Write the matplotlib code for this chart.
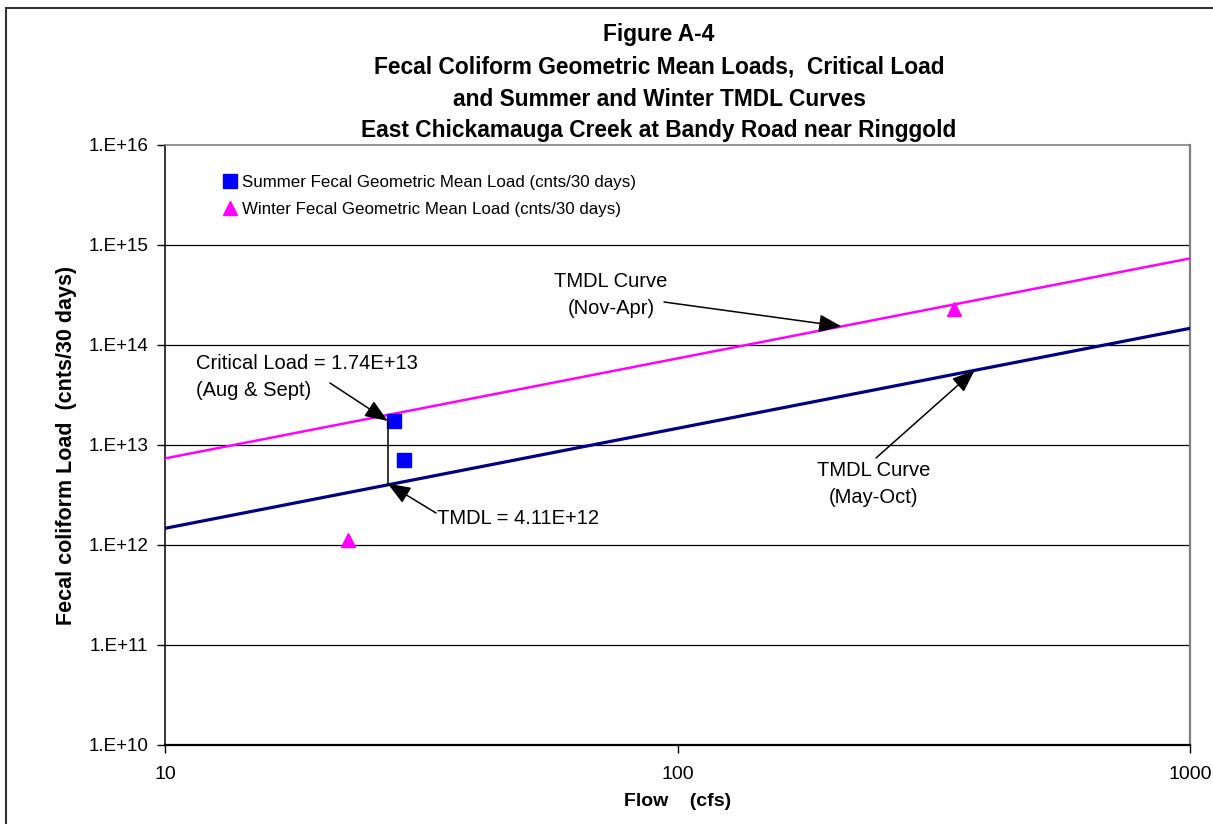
import numpy as np
import matplotlib
matplotlib.use("Agg")
import matplotlib.pyplot as plt
from matplotlib.lines import Line2D
from matplotlib.patches import Rectangle

plt.rcParams['font.family'] = ['Liberation Sans', 'DejaVu Sans']

# ---- data ----
title_lines = [
    "Figure A-4",
    "Fecal Coliform Geometric Mean Loads,  Critical Load",
    "and Summer and Winter TMDL Curves",
    "East Chickamauga Creek at Bandy Road near Ringgold",
]

summer_flow = [28.0, 29.3]
summer_load = [1.74e13, 7.1e12]

winter_flow = [22.8, 346.0]
winter_load = [1.12e12, 2.29e14]

# TMDL curves (straight lines on log-log axes, given by their end points)
curve_flow = [10.0, 1000.0]
summer_curve = [1.468e12, 1.468e14]
winter_curve = [7.34e12, 7.34e14]

critical_flow = 27.2
critical_load = 1.74e13
tmdl_value = 4.11e12

x_ticks = [10, 100, 1000]
x_tick_labels = ["10", "100", "1000"]
y_ticks = [1e10, 1e11, 1e12, 1e13, 1e14, 1e15, 1e16]
y_tick_labels = ["1.E+10", "1.E+11", "1.E+12", "1.E+13", "1.E+14", "1.E+15", "1.E+16"]


def on_curve(q, loads):
    """Load on a power-law curve at flow q (log-log interpolation)."""
    return 10 ** np.interp(np.log10(q), np.log10(curve_flow), np.log10(loads))


W, H = 1213, 824
fig = plt.figure(figsize=(W / 100, H / 100), dpi=100)
fig.patch.set_facecolor("white")

# outer chart frame
fig.patches.append(Rectangle((6 / W, -0.05), 1.2, 1 - 8 / H + 0.05,
                             transform=fig.transFigure, fill=False,
                             edgecolor="#333333", linewidth=1.5))

L, R, T, B = 165, 1190, 145, 745
ax = fig.add_axes([L / W, 1 - B / H, (R - L) / W, (B - T) / H])
ax.set_xscale("log")
ax.set_yscale("log")
ax.set_xlim(10, 1000)
ax.set_ylim(1e10, 1e16)

# horizontal gridlines
for yv in y_ticks[1:-1]:
    ax.axhline(yv, color="black", linewidth=0.9, zorder=1)

ax.spines["left"].set_color("black")
ax.spines["bottom"].set_color("black")
ax.spines["left"].set_linewidth(1.1)
ax.spines["bottom"].set_linewidth(1.6)
ax.spines["top"].set_color("#808080")
ax.spines["right"].set_color("#808080")
ax.spines["top"].set_linewidth(1.2)
ax.spines["right"].set_linewidth(1.6)

ax.set_xticks(x_ticks)
ax.set_xticklabels(x_tick_labels)
ax.set_yticks(y_ticks)
ax.set_yticklabels(y_tick_labels)
ax.minorticks_off()
ax.tick_params(axis="both", which="major", direction="out", length=6,
               width=1, labelsize=14, color="black")
ax.tick_params(axis="x", pad=9)
ax.tick_params(axis="y", labelsize=13.6, pad=6)

# curves
ax.plot(curve_flow, winter_curve, color="#FF00FF", linewidth=1.8, zorder=3)
ax.plot(curve_flow, summer_curve, color="#000080", linewidth=2.3, zorder=3)

# observed loads
ax.plot(summer_flow, summer_load, linestyle="none", marker="s", markersize=9.5,
        color="#0000FF", zorder=4)
ax.plot(winter_flow, winter_load, linestyle="none", marker="^", markersize=10,
        color="#FF00FF", zorder=4)

# critical load to TMDL connector
ax.plot([critical_flow, critical_flow], [critical_load, tmdl_value],
        color="black", linewidth=1.1, zorder=5)

arrow = dict(arrowstyle="-|>,head_length=1.4,head_width=0.55",
             mutation_scale=10, color="black", linewidth=1.1,
             shrinkA=0, shrinkB=0)

def frac(px, py):
    return ((px - L) / (R - L), (B - py) / (B - T))

text_kw = dict(fontsize=14.5, color="black", textcoords="axes fraction",
               zorder=6)

# winter curve label
q_w = 209.0
ax.annotate("", xy=(q_w, on_curve(q_w, winter_curve)), xytext=frac(664, 302),
            arrowprops=arrow, textcoords="axes fraction")
ax.annotate("TMDL Curve\n(Nov-Apr)", xy=(q_w, on_curve(q_w, winter_curve)),
            xytext=frac(611, 295), ha="center", va="center",
            linespacing=1.55, **text_kw)

# summer curve label
q_s = 380.0
ax.annotate("", xy=(q_s, on_curve(q_s, summer_curve)), xytext=frac(876, 458),
            arrowprops=arrow, textcoords="axes fraction")
ax.annotate("TMDL Curve\n(May-Oct)", xy=(q_s, on_curve(q_s, summer_curve)),
            xytext=frac(874, 484), ha="center", va="center",
            linespacing=1.55, **text_kw)

# critical load label
ax.annotate("", xy=(critical_flow, critical_load), xytext=frac(330, 383),
            arrowprops=arrow, textcoords="axes fraction")
ax.annotate("Critical Load = 1.74E+13\n(Aug & Sept)",
            xy=(critical_flow, critical_load), xytext=frac(196, 377),
            ha="left", va="center", linespacing=1.55, **text_kw)

# TMDL value label
ax.annotate("", xy=(critical_flow, tmdl_value), xytext=frac(436, 513),
            arrowprops=arrow, textcoords="axes fraction")
ax.annotate("TMDL = 4.11E+12", xy=(critical_flow, tmdl_value),
            xytext=frac(437, 519), ha="left", va="center", **text_kw)

# legend
handles = [
    Line2D([], [], linestyle="none", marker="s", markersize=9.5, color="#0000FF"),
    Line2D([], [], linestyle="none", marker="^", markersize=10, color="#FF00FF"),
]
labels = ["Summer Fecal Geometric Mean Load (cnts/30 days)",
          "Winter Fecal Geometric Mean Load (cnts/30 days)"]
ax.legend(handles, labels, loc="upper left", bbox_to_anchor=frac(222, 175),
          frameon=False, fontsize=12.2, handlelength=0.9, handletextpad=0.3,
          labelspacing=0.72, borderpad=0, borderaxespad=0)

# titles
cx = 659 / W
for i, line in enumerate(title_lines):
    fig.text(cx, 1 - (35 + i * 32) / H, line, ha="center", va="center",
             fontsize=16.4, fontweight="bold")

ax.set_xlabel("Flow    (cfs)", fontsize=14, fontweight="bold", labelpad=7)
ax.set_ylabel("Fecal coliform Load  (cnts/30 days)", fontsize=15.5,
              fontweight="bold", labelpad=8)

fig.savefig("out.png", dpi=100)
